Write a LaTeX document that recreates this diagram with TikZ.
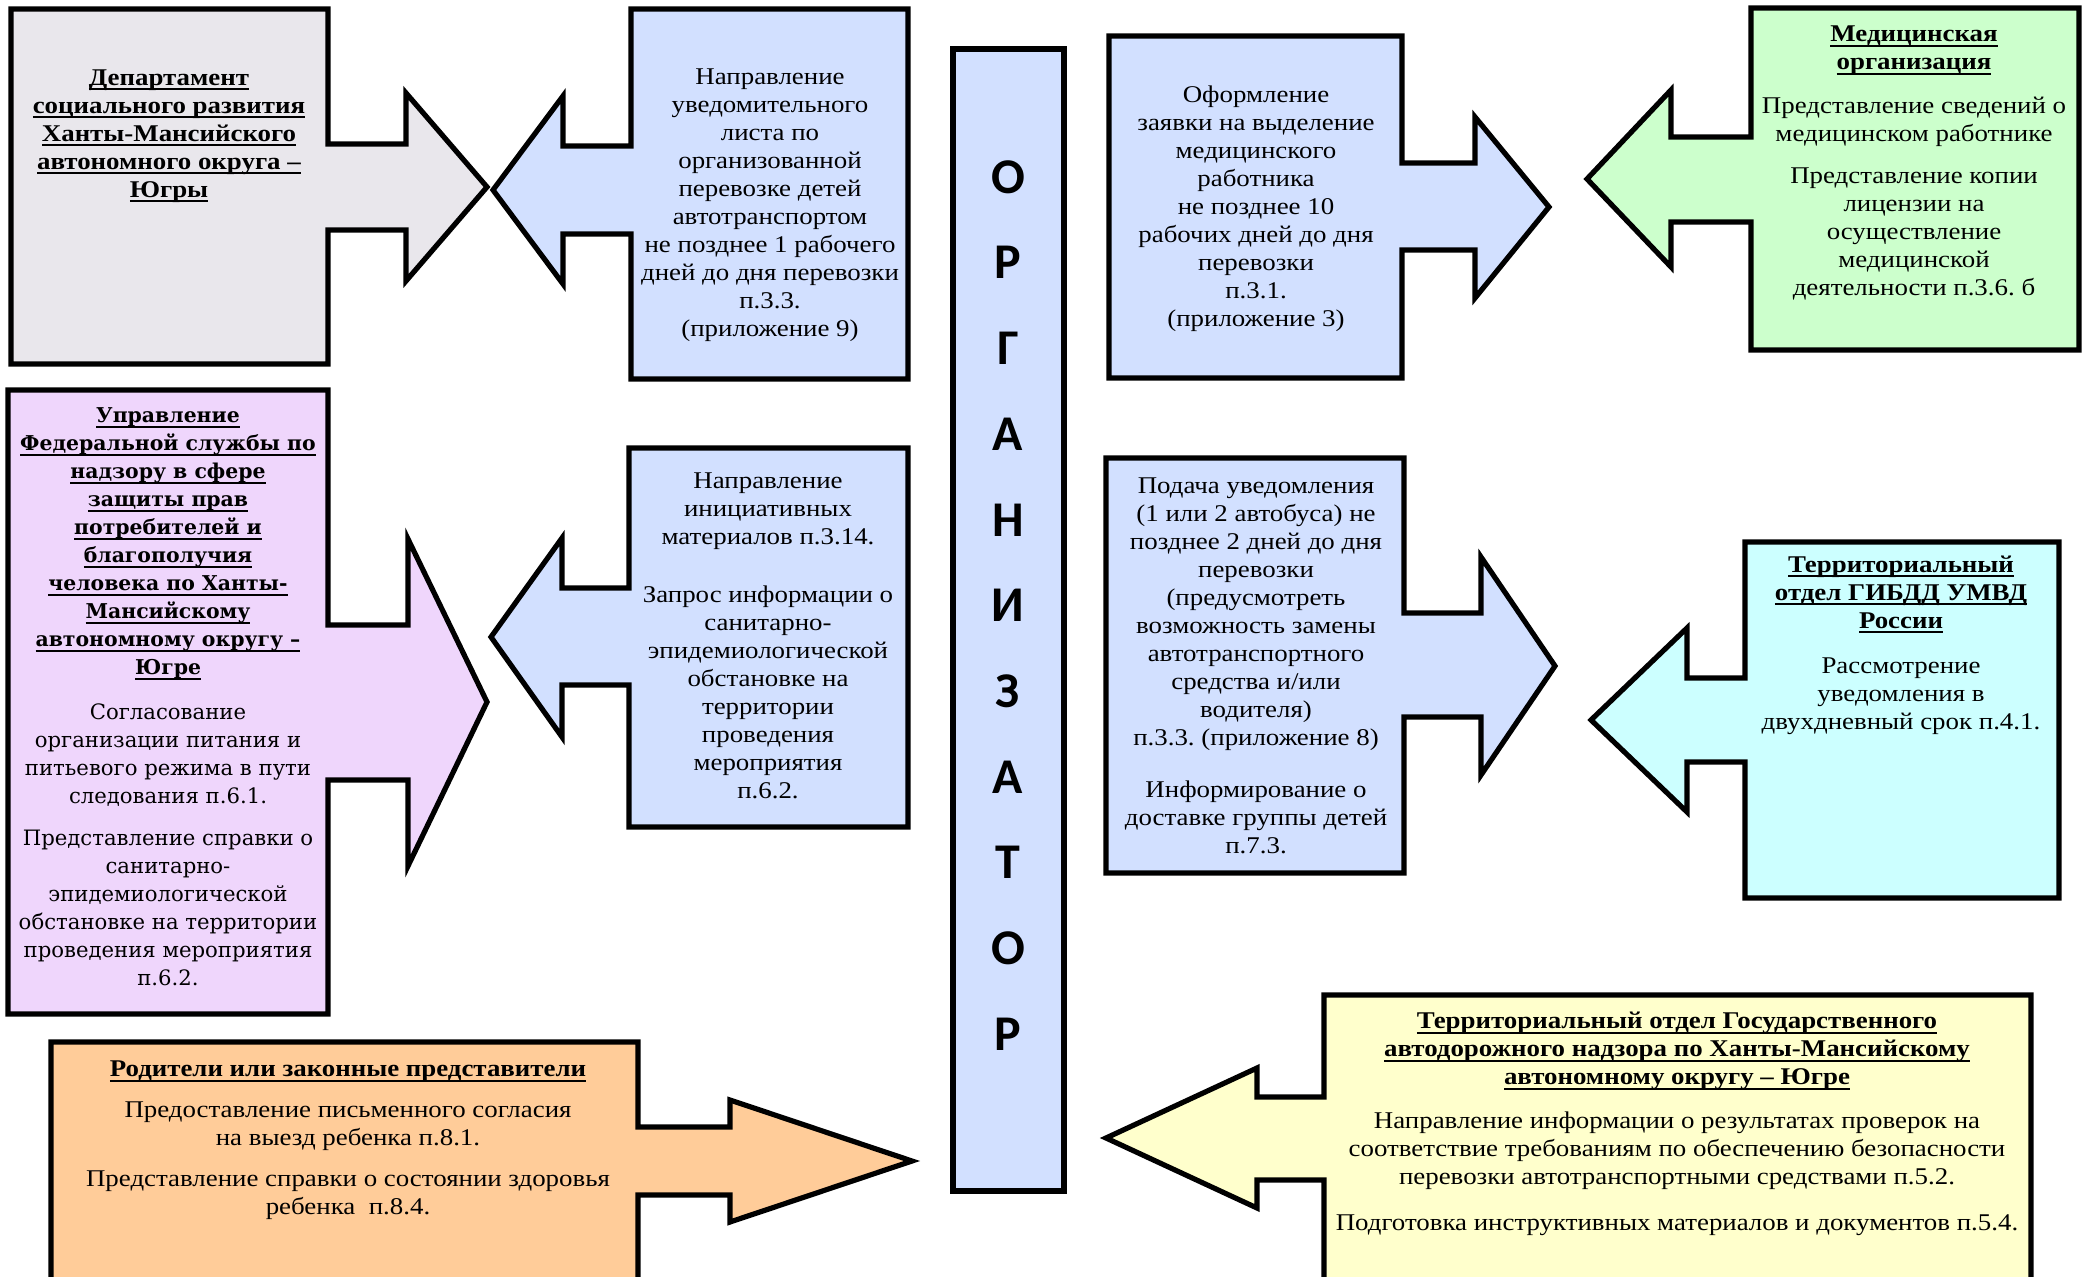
\documentclass[tikz,border=0pt]{standalone}
\usepackage{fontspec}
\setmainfont{Liberation Serif}[FakeStretch=1.12]
\newfontfamily\wideserif{DejaVu Serif}
\newfontfamily\orgfont{Carlito}
\frenchspacing
\newcommand{\hdr}[1]{\leavevmode\setbox0=\hbox{#1}\rlap{\rule[-2.6pt]{\wd0}{1pt}}\box0}
\definecolor{depfill}{RGB}{233,231,236}
\definecolor{bluefill}{RGB}{210,224,255}
\definecolor{greenfill}{RGB}{204,255,204}
\definecolor{lilacfill}{RGB}{239,214,252}
\definecolor{cyanfill}{RGB}{204,255,255}
\definecolor{peachfill}{RGB}{255,204,153}
\definecolor{lemonfill}{RGB}{255,255,204}

\begin{document}
\begin{tikzpicture}[x=0.5pt,y=-0.5pt,
    callout/.style={draw=black,line width=2.6pt,line join=miter},
    txt/.style={align=center,inner sep=0pt,font=\fontsize{12}{14}\selectfont},
    headtxt/.style={txt,font=\fontsize{12}{14}\selectfont\bfseries},
    widetxt/.style={align=center,inner sep=0pt,font=\wideserif\fontsize{10.6}{14}\selectfont},
    orgletter/.style={inner sep=0pt,font=\orgfont\bfseries\fontsize{25}{25}\selectfont}]

    \useasboundingbox (0,0) rectangle (2087,1277);
    \clip (0,0) rectangle (2087,1277);

    % left column
    \draw[callout,fill=depfill] (11,9) -- (328,9) -- (328,144) -- (406,144) -- (406,93) -- (487,187)
        -- (406,281) -- (406,230) -- (328,230) -- (328,364) -- (11,364) -- cycle;
    \draw[callout,fill=lilacfill] (8,390) -- (328,390) -- (328,625) -- (408,625) -- (408,539) -- (487,702)
        -- (408,866) -- (408,780) -- (328,780) -- (328,1014) -- (8,1014) -- cycle;
    \draw[callout,fill=peachfill] (51,1042) -- (638,1042) -- (638,1127) -- (730,1127) -- (730,1100) -- (912,1161)
        -- (730,1222) -- (730,1195) -- (638,1195) -- (638,1300) -- (51,1300) -- cycle;

    % boxes next to the organiser
    \draw[callout,fill=bluefill] (908,9) -- (631,9) -- (631,146) -- (563,146) -- (563,96) -- (493,190)
        -- (563,284) -- (563,234) -- (631,234) -- (631,379) -- (908,379) -- cycle;
    \draw[callout,fill=bluefill] (908,448) -- (629,448) -- (629,588) -- (562,588) -- (562,538) -- (491,637)
        -- (562,737) -- (562,685) -- (629,685) -- (629,827) -- (908,827) -- cycle;
    \draw[callout,fill=bluefill] (1109,36) -- (1402,36) -- (1402,163) -- (1475,163) -- (1475,117) -- (1549,207)
        -- (1475,298) -- (1475,250) -- (1402,250) -- (1402,378) -- (1109,378) -- cycle;
    \draw[callout,fill=bluefill] (1106,458) -- (1404,458) -- (1404,613) -- (1481,613) -- (1481,557) -- (1555,666)
        -- (1481,775) -- (1481,717) -- (1404,717) -- (1404,873) -- (1106,873) -- cycle;

    % right column
    \draw[callout,fill=greenfill] (2079,8) -- (1751,8) -- (1751,137) -- (1671,137) -- (1671,90) -- (1587,179)
        -- (1671,267) -- (1671,222) -- (1751,222) -- (1751,350) -- (2079,350) -- cycle;
    \draw[callout,fill=cyanfill] (2059,542) -- (1745,542) -- (1745,678) -- (1687,678) -- (1687,628) -- (1591,720)
        -- (1687,812) -- (1687,762) -- (1745,762) -- (1745,898) -- (2059,898) -- cycle;
    \draw[callout,fill=lemonfill] (2031,995) -- (1324,995) -- (1324,1097) -- (1257,1097) -- (1257,1068) -- (1106,1138)
        -- (1257,1208) -- (1257,1180) -- (1324,1180) -- (1324,1300) -- (2031,1300) -- cycle;

    % organiser
    \draw[callout,fill=bluefill] (953,49) rectangle (1064,1191);
    \foreach \ch [count=\i from 0] in {О,Р,Г,А,Н,И,З,А,Т,О,Р}
        \node[orgletter] (org\i) at (1008,{177+85.7*\i}) {\ch};

    \node[headtxt] (dep) at (169,136) {\hdr{Департамент}\\ \hdr{социального развития}\\
        \hdr{Ханты-Мансийского}\\ \hdr{автономного округа –}\\ \hdr{Югры}};

    \node[widetxt] (rpn) at (168,697) {\fontsize{10.2}{14}\selectfont\bfseries\hdr{Управление}\\
        \fontsize{10.2}{14}\selectfont\bfseries\hdr{Федеральной службы по}\\
        \fontsize{10.2}{14}\selectfont\bfseries\hdr{надзору в сфере}\\
        \fontsize{10.2}{14}\selectfont\bfseries\hdr{защиты прав}\\
        \fontsize{10.2}{14}\selectfont\bfseries\hdr{потребителей и}\\
        \fontsize{10.2}{14}\selectfont\bfseries\hdr{благополучия}\\
        \fontsize{10.2}{14}\selectfont\bfseries\hdr{человека по Ханты-}\\
        \fontsize{10.2}{14}\selectfont\bfseries\hdr{Мансийскому}\\
        \fontsize{10.2}{14}\selectfont\bfseries\hdr{автономному округу –}\\
        \fontsize{10.2}{14}\selectfont\bfseries\hdr{Югре}\\[8.5pt]
        Согласование\\ организации питания и\\ питьевого режима в пути\\ следования п.6.1.\\[7pt]
        Представление справки о\\ санитарно-\\ эпидемиологической\\ обстановке на территории\\
        проведения мероприятия\\ п.6.2.};

    \node[txt] (parents) at (348,1140) {\bfseries\hdr{Родители или законные представители}\\[6.5pt]
        Предоставление письменного согласия\\ на выезд ребенка п.8.1.\\[6.5pt]
        Представление справки о состоянии здоровья\\ ребенка~~п.8.4.};

    \node[txt] (notice9) at (770,205) {Направление\\ уведомительного\\ листа по\\ организованной\\
        перевозке детей\\ автотранспортом\\ не позднее 1 рабочего\\ дней до дня перевозки\\ п.3.3.\\ (приложение 9)};

    \node[txt] (initmat) at (768,636) {Направление\\ инициативных\\ материалов п.3.14.\\[15pt]
        Запрос информации о\\ санитарно-\\ эпидемиологической\\ обстановке на\\ территории\\ проведения\\
        мероприятия\\ п.6.2.};

    \node[txt] (medreq) at (1256,209) {Оформление\\ заявки на выделение\\ медицинского\\ работника\\
        не позднее 10\\ рабочих дней до дня\\ перевозки\\ п.3.1.\\ (приложение 3)};

    \node[txt] (busnote) at (1256,666) {Подача уведомления\\ (1 или 2 автобуса) не\\ позднее 2 дней до дня\\
        перевозки\\ (предусмотреть\\ возможность замены\\ автотранспортного\\ средства и/или\\ водителя)\\
        п.3.3. (приложение 8)\\[12pt]
        Информирование о\\ доставке группы детей\\ п.7.3.};

    \node[txt] (medorg) at (1914,163) {\bfseries\hdr{Медицинская}\\ \bfseries\hdr{организация}\\[8pt]
        Представление сведений о\\ медицинском работнике\\[7pt]
        Представление копии\\ лицензии на\\ осуществление\\ медицинской\\ деятельности п.3.6. б};

    \node[txt] (gibdd) at (1901,645) {\bfseries\hdr{Территориальный}\\ \bfseries\hdr{отдел ГИБДД УМВД}\\
        \bfseries\hdr{России}\\[8.5pt]
        Рассмотрение\\ уведомления в\\ двухдневный срок п.4.1.};

    \node[txt] (gadn) at (1677,1124) {\bfseries\hdr{Территориальный отдел Государственного}\\
        \bfseries\hdr{автодорожного надзора по Ханты-Мансийскому}\\ \bfseries\hdr{автономному округу – Югре}\\[8pt]
        Направление информации о результатах проверок на\\ соответствие требованиям по обеспечению безопасности\\
        перевозки автотранспортными средствами п.5.2.\\[9pt]
        Подготовка инструктивных материалов и документов п.5.4.};
\end{tikzpicture}
\end{document}
